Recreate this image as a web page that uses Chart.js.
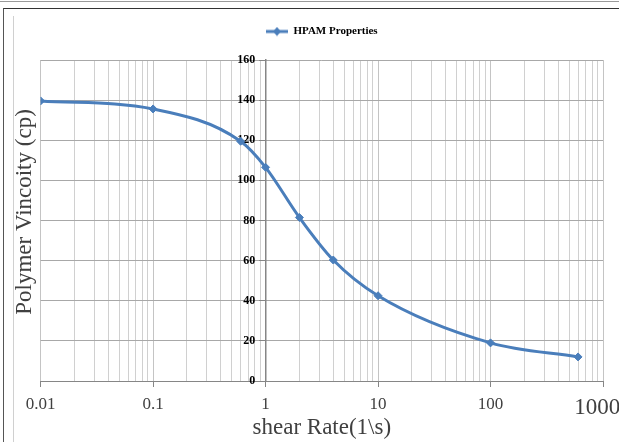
<!DOCTYPE html>
<html><head><meta charset="utf-8">
<script src="https://cdn.jsdelivr.net/npm/chart.js@4"></script>
<style>
html,body{margin:0;padding:0;background:#fff;}
#wrap{position:relative;width:619px;height:442px;overflow:hidden;}
canvas{position:absolute;left:0;top:0;}
#b1{position:absolute;left:0;top:1px;width:619px;height:0;border-top:1px solid #9a9a9a;}
#b2{position:absolute;left:3px;top:8px;width:640px;height:460px;border-left:1px solid #555;border-top:1px solid #333;}
#b3{position:absolute;left:13px;top:16px;width:0;height:430px;border-left:1px solid #d0d0d0;}
</style></head>
<body><div id="wrap"><canvas id="c" width="619" height="442"></canvas><div id="b1"></div><div id="b2"></div><div id="b3"></div></div>
<script>
const shearRate = [0.01, 0.1, 0.6, 1, 2, 4, 10, 100, 600];
const viscosity = [139.6, 135.6, 119.5, 106.5, 81.5, 60.3, 42.5, 19, 12];
const seriesName = 'HPAM Properties';
const xTitle = 'shear Rate(1\\s)';
const yTitle = 'Polymer Vincoity (cp)';
const xTickDecades = [0.01, 0.1, 1, 10, 100, 1000];
const yTicks = [0, 20, 40, 60, 80, 100, 120, 140, 160];

const blue = '#4a7ebb';
function decadeOf(v){ return xTickDecades.find(d => Math.abs(v / d - 1) < 1e-6); }

// legend marker: line with diamond
const mk = document.createElement('canvas');
mk.width = 22; mk.height = 10;
(function(){
  const g = mk.getContext('2d');
  g.fillStyle = blue;
  g.fillRect(0, 3.5, 22, 3);
  g.beginPath(); g.moveTo(11, 0.5); g.lineTo(15, 5); g.lineTo(11, 9.5); g.lineTo(7, 5); g.closePath(); g.fill();
})();

const legendGap = {
  id: 'legendGap',
  afterInit(chart) {
    const lg = chart.legend;
    if (lg && !lg._gapPatched) {
      const orig = lg.fit.bind(lg);
      lg.fit = function(){ orig(); this.height += 13; };
      lg._gapPatched = true;
    }
  }
};

new Chart(document.getElementById('c'), {
  type: 'line',
  data: {
    datasets: [{
      label: seriesName,
      data: shearRate.map((x, i) => ({x, y: viscosity[i]})),
      borderColor: blue,
      backgroundColor: blue,
      borderWidth: 3,
      pointStyle: 'rectRot',
      pointRadius: 4,
      pointBorderWidth: 1,
      cubicInterpolationMode: 'monotone',
      fill: false
    }]
  },
  plugins: [legendGap],
  options: {
    responsive: false,
    animation: false,
    layout: { padding: { left: 3, right: 16, top: 0, bottom: 18 } },
    plugins: {
      legend: {
        display: true, position: 'top', fullSize: false,
        labels: { usePointStyle: true, pointStyleWidth: 22, boxHeight: 10, color: '#000', padding: 26,
          font: { family: 'Liberation Serif', size: 11, weight: 'bold' },
          generateLabels: (chart) => [{
            text: seriesName, pointStyle: mk, fillStyle: blue, strokeStyle: blue,
            lineWidth: 0, hidden: false, datasetIndex: 0, fontColor: '#000'
          }]
        }
      },
      title: {
        display: true, position: 'left', text: yTitle, color: '#404040',
        font: { family: 'Liberation Serif', size: 23, weight: 'normal' },
        padding: { top: 8, bottom: 2 }
      },
      tooltip: { enabled: false }
    },
    scales: {
      x: {
        type: 'logarithmic', min: 0.01, max: 1000,
        afterBuildTicks: s => {
          const t = [];
          xTickDecades.forEach((d, i) => {
            if (i === xTickDecades.length - 1) { t.push({ value: d, major: true }); return; }
            for (let m = 1; m <= 9; m++) t.push({ value: +(d * m).toPrecision(3), major: m === 1 });
          });
          s.ticks = t;
        },
        afterFit: s => { s.paddingLeft = 0; s.paddingRight = 0; s.height = 43; },
        grid: {
          color: ctx => (ctx.tick && decadeOf(ctx.tick.value)) ? '#c4c4c4' : '#d0d0d0',
          tickColor: ctx => (ctx.tick && decadeOf(ctx.tick.value)) ? '#868686' : 'rgba(0,0,0,0)',
          tickLength: 6, drawTicks: true
        },
        border: { color: '#868686', width: 1 },
        ticks: {
          autoSkip: false, maxRotation: 0, minRotation: 0, color: '#404040', padding: 7,
          font: ctx => ({ family: 'Liberation Serif', size: (ctx.tick && ctx.tick.value === 1000) ? 23 : 17 }),
          callback: (v) => {
            const d = decadeOf(v);
            if (!d) return '';
            return d === 1000 ? String(d) + '  ' : String(d);
          }
        },
        title: { display: true, text: xTitle, color: '#404040', padding: { top: 0, bottom: -18 },
          font: { family: 'Liberation Serif', size: 23 } }
      },
      y: {
        type: 'linear', min: 0, max: 160,
        position: { x: 1 },
        afterBuildTicks: s => { s.ticks = yTicks.map(v => ({ value: v })); },
        grid: { color: '#a8a8a8', tickColor: '#868686', tickLength: 6 },
        border: { color: '#868686', width: 1.5 },
        ticks: { display: false }
      },
      yLabels: {
        type: 'linear', min: 0, max: 160, axis: 'y',
        position: { x: 0.81 },
        afterBuildTicks: s => { s.ticks = yTicks.map(v => ({ value: v })); },
        grid: { display: false, drawTicks: false },
        border: { display: false },
        ticks: { color: '#000', padding: 0,
          font: { family: 'Liberation Serif', size: 12, weight: 'bold' } }
      }
    }
  }
});
</script></body></html>
